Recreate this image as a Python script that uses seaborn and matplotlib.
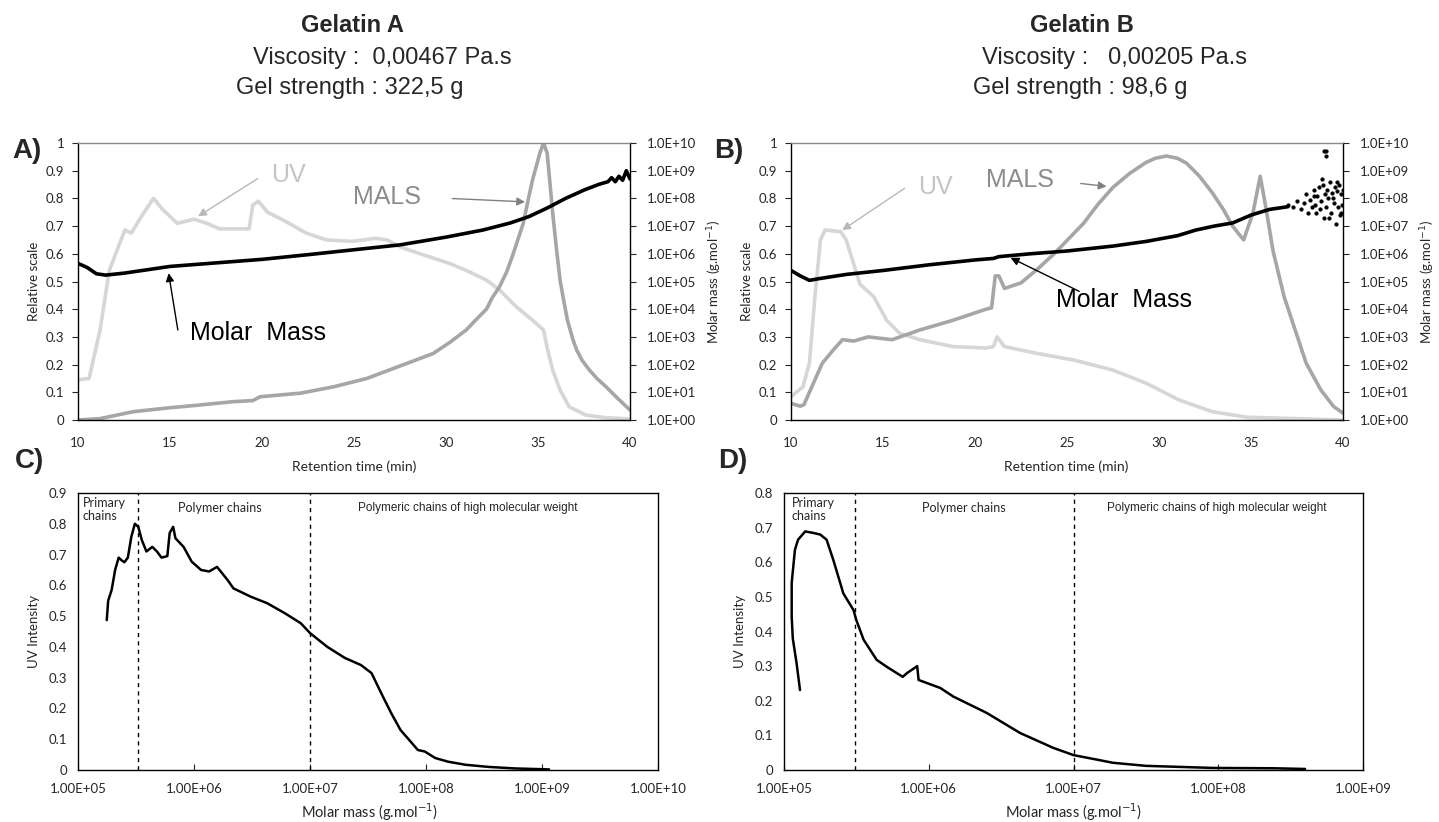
import numpy as np
import pandas as pd
import seaborn as sns
import matplotlib
matplotlib.use('Agg')
import matplotlib.pyplot as plt
from matplotlib.ticker import FuncFormatter, FixedLocator, NullLocator

# ---- data ----
# Gelatin A, retention time (min) vs relative scale
a_uv_t = [10.0, 10.6, 11.2, 11.7, 12.55, 12.9, 13.4, 14.1, 14.6, 15.4, 16.3, 17.0, 17.7, 19.3, 19.5, 19.8,
          20.3, 21.2, 22.4, 23.5, 24.9, 26.2, 26.8, 27.5, 28.6, 30.2, 31.1, 32.2, 32.9, 33.8, 34.7, 35.3,
          35.5, 35.8, 36.2, 36.7, 37.6, 38.7, 40.0]
a_uv = [0.145, 0.15, 0.325, 0.54, 0.686, 0.675, 0.73, 0.80, 0.76, 0.71, 0.725, 0.71, 0.69, 0.69, 0.776, 0.79,
        0.75, 0.72, 0.675, 0.65, 0.645, 0.656, 0.65, 0.625, 0.60, 0.565, 0.54, 0.505, 0.47, 0.41, 0.36, 0.325,
        0.26, 0.18, 0.108, 0.047, 0.018, 0.008, 0.004]
a_mals_t = [10.0, 11.2, 13.0, 14.8, 16.6, 18.4, 19.5, 19.9, 22.1, 23.9, 25.7, 27.5, 29.3, 30.2, 31.1, 31.6,
            32.2, 32.5, 32.9, 33.3, 33.6, 33.9, 34.2, 34.45, 34.7, 35.1, 35.3, 35.5, 35.8, 36.0, 36.2, 36.4,
            36.6, 36.9, 37.1, 37.4, 37.8, 38.2, 38.7, 39.3, 40.0]
a_mals = [0.0, 0.005, 0.03, 0.043, 0.054, 0.066, 0.07, 0.084, 0.097, 0.12, 0.15, 0.195, 0.24, 0.28, 0.325, 0.36,
          0.40, 0.44, 0.48, 0.535, 0.59, 0.65, 0.71, 0.79, 0.866, 0.963, 1.0, 0.963, 0.746, 0.62, 0.505, 0.43,
          0.36, 0.29, 0.253, 0.215, 0.18, 0.15, 0.12, 0.08, 0.036]
a_mm_t = [10.0, 10.5, 11.0, 11.5, 12.5, 15.0, 17.5, 20.0, 22.5, 25.0, 27.5, 30.0, 32.0, 33.5, 34.5, 35.5,
          36.5, 37.5, 38.3, 38.8, 39.0, 39.2, 39.4, 39.6, 39.8, 40.0]
a_mm = [4.5e5, 3.2e5, 1.9e5, 1.7e5, 2.0e5, 3.5e5, 4.7e5, 6.3e5, 9.3e5, 1.4e6, 2.1e6, 4.0e6, 7.2e6, 1.3e7, 2.2e7, 4.5e7,
        1.0e8, 2.0e8, 3.2e8, 4.0e8, 5.6e8, 4.0e8, 6.3e8, 4.5e8, 1.0e9, 5.0e8]

# Gelatin B
b_uv_t = [10.0, 10.65, 11.0, 11.3, 11.6, 11.85, 12.7, 13.0, 13.4, 13.75, 14.5, 15.2, 15.9, 17.0, 18.8, 20.6,
          21.0, 21.2, 21.6, 23.4, 25.4, 27.5, 29.3, 31.1, 32.9, 34.8, 40.0]
b_uv = [0.084, 0.12, 0.205, 0.445, 0.65, 0.686, 0.68, 0.65, 0.565, 0.49, 0.445, 0.36, 0.313, 0.29, 0.265, 0.26,
        0.265, 0.30, 0.265, 0.24, 0.216, 0.18, 0.133, 0.072, 0.03, 0.01, 0.0]
b_mals_t = [10.0, 10.5, 10.7, 11.2, 11.7, 12.3, 12.8, 13.4, 14.2, 15.5, 17.0, 18.8, 20.6, 20.9, 21.1, 21.3,
            21.6, 22.5, 23.4, 24.3, 25.1, 25.9, 26.7, 27.5, 28.4, 29.3, 29.8, 30.4, 31.0, 31.5, 32.2, 32.9,
            33.5, 34.0, 34.6, 35.1, 35.5, 35.8, 36.2, 36.8, 37.4, 38.0, 38.8, 39.5, 40.0]
b_mals = [0.06, 0.05, 0.055, 0.13, 0.205, 0.253, 0.29, 0.285, 0.30, 0.29, 0.325, 0.36, 0.40, 0.405, 0.52, 0.52,
          0.475, 0.495, 0.545, 0.60, 0.655, 0.71, 0.78, 0.84, 0.89, 0.93, 0.945, 0.953, 0.945, 0.927, 0.88, 0.82,
          0.76, 0.70, 0.65, 0.746, 0.88, 0.77, 0.61, 0.445, 0.325, 0.205, 0.108, 0.048, 0.025]
b_mm_t = [10.0, 10.5, 11.0, 11.5, 13.0, 15.0, 17.5, 20.0, 21.0, 21.3, 23.0, 25.0, 27.5, 29.3, 31.0, 32.0,
          33.0, 34.0, 35.0, 36.0, 37.0]
b_mm = [2.5e5, 1.6e5, 1.1e5, 1.26e5, 1.8e5, 2.5e5, 4.0e5, 6.0e5, 6.8e5, 7.9e5, 1.0e6, 1.26e6, 1.9e6, 2.8e6, 4.5e6, 7.2e6,
        1.0e7, 1.3e7, 2.5e7, 4.0e7, 5.0e7]
# noisy molar mass points at the end of run B
b_sc_t = [37.0, 37.3, 37.5, 37.7, 37.9, 38.0, 38.1, 38.2, 38.3, 38.4, 38.5, 38.55, 38.6, 38.7, 38.75, 38.8,
          38.9, 38.95, 39.0, 39.1, 39.15, 39.2, 39.3, 39.35, 39.4, 39.5, 39.55, 39.6, 39.7, 39.75, 39.8,
          39.85, 39.9, 39.95, 40.0, 38.45, 38.85, 39.25, 39.45, 39.65, 39.9, 38.95, 39.1, 39.05]
b_sc = [6e7, 5e7, 8e7, 4e7, 7e7, 1.5e8, 3e7, 9e7, 5e7, 2e8, 6e7, 3e7, 1.2e8, 2.5e8, 4e7, 8e7,
        3e8, 2e7, 1.5e8, 5e7, 2e8, 1e8, 4e8, 3e7, 1.6e8, 7e7, 2.5e8, 1.2e7, 1.8e8, 5e7, 3e8,
        2.5e7, 1.5e8, 6e7, 2e8, 1.2e8, 5e8, 2e7, 1e8, 4e8, 3e7, 5e9, 5e9, 3.5e9]

# C / D : UV intensity vs molar mass
c_mm = [1.77e5, 1.82e5, 1.95e5, 2.09e5, 2.24e5, 2.40e5, 2.51e5, 2.69e5, 2.88e5, 3.09e5, 3.31e5, 3.55e5, 3.89e5,
        4.37e5, 4.79e5, 5.25e5, 5.89e5, 6.17e5, 6.61e5, 6.92e5, 8.13e5, 9.55e5, 1.15e6, 1.35e6, 1.58e6, 1.95e6,
        2.19e6, 3.09e6, 4.27e6, 6.03e6, 8.32e6, 1.0e7, 1.41e7, 2.0e7, 2.75e7, 3.39e7, 4.17e7, 5.01e7, 6.03e7,
        8.51e7, 9.77e7, 1.2e8, 1.55e8, 2.19e8, 3.47e8, 5.89e8, 1.15e9]
c_uv = [0.487, 0.55, 0.585, 0.65, 0.69, 0.68, 0.675, 0.69, 0.757, 0.80, 0.79, 0.747, 0.71,
        0.725, 0.71, 0.69, 0.695, 0.77, 0.79, 0.753, 0.725, 0.677, 0.65, 0.645, 0.66, 0.617,
        0.59, 0.563, 0.542, 0.51, 0.477, 0.445, 0.40, 0.364, 0.341, 0.315, 0.245, 0.185, 0.13,
        0.065, 0.06, 0.039, 0.027, 0.017, 0.01, 0.005, 0.002]
d_mm = [1.29e5, 1.22e5, 1.15e5, 1.13e5, 1.13e5, 1.19e5, 1.25e5, 1.40e5, 1.58e5, 1.78e5, 1.97e5, 2.19e5, 2.57e5,
        3.02e5, 3.16e5, 3.55e5, 4.37e5, 5.13e5, 6.61e5, 7.08e5, 8.32e5, 8.51e5, 1.2e6, 1.48e6, 2.51e6, 4.27e6,
        7.24e6, 1.0e7, 1.45e7, 1.86e7, 3.16e7, 5.37e7, 9.12e7, 2.4e8, 3.98e8]
d_uv = [0.231, 0.31, 0.38, 0.443, 0.54, 0.636, 0.665, 0.689, 0.685, 0.68, 0.665, 0.607, 0.51,
        0.462, 0.433, 0.376, 0.318, 0.298, 0.269, 0.28, 0.30, 0.26, 0.237, 0.212, 0.165, 0.107,
        0.064, 0.043, 0.03, 0.021, 0.012, 0.009, 0.006, 0.005, 0.003]

uv_col = '#d6d6d6'
mals_col = '#a6a6a6'

sns.set_style('white')
plt.rcParams['font.family'] = ['Lato', 'DejaVu Sans']
plt.rcParams['axes.linewidth'] = 1.0

fig = plt.figure(figsize=(14.39, 8.22), dpi=100)
W, H = 1439.0, 822.0

def box(l, t, r, b):
    return [l / W, 1 - b / H, (r - l) / W, (b - t) / H]

def figtxt(x, y, s, **kw):
    fig.text(x / W, 1 - y / H, s, **kw)

rel_fmt = FuncFormatter(lambda v, p: '%g' % round(v, 2))
sci1 = FuncFormatter(lambda v, p: '%.1E' % v)
sci2 = FuncFormatter(lambda v, p: '%.2E' % v)


def top_panel(rect, uv_t, uv, mals_t, mals, mm_t, mm):
    ax = fig.add_axes(rect)
    sns.lineplot(x=uv_t, y=uv, ax=ax, color=uv_col, lw=2.6, sort=False, estimator=None)
    sns.lineplot(x=mals_t, y=mals, ax=ax, color=mals_col, lw=2.6, sort=False, estimator=None)
    ax.set_xlim(10, 40)
    ax.set_ylim(0, 1)
    ax.set_xticks([10, 15, 20, 25, 30, 35, 40])
    ax.set_yticks(np.arange(0, 1.01, 0.1))
    ax.yaxis.set_major_formatter(rel_fmt)
    ax.tick_params(axis='x', length=0, pad=12, labelsize=9.5)
    ax.tick_params(axis='y', left=True, length=4, width=0.8, pad=6, labelsize=9.5)
    ax.set_ylabel('Relative scale', fontsize=9.5, labelpad=4)
    for s in ax.spines.values():
        s.set_color('black')
    ax.spines['top'].set_color('#8a8a8a')
    ax2 = ax.twinx()
    sns.lineplot(x=mm_t, y=mm, ax=ax2, color='black', lw=2.6, sort=False, estimator=None)
    ax2.set_yscale('log')
    ax2.set_ylim(1, 1e10)
    ax2.yaxis.set_major_locator(FixedLocator([10.0 ** k for k in range(11)]))
    ax2.yaxis.set_minor_locator(NullLocator())
    ax2.yaxis.set_major_formatter(sci1)
    ax2.tick_params(axis='y', right=True, length=4, width=0.8, pad=8, labelsize=9.5)
    ax2.set_ylabel('Molar mass (g.mol$^{-1}$)', fontsize=9.5)
    ax2.yaxis.set_label_coords(1.137, 0.5)
    for s in ax2.spines.values():
        s.set_visible(False)
    return ax, ax2


def bottom_panel(rect, mm, uv, ymax, xmax, dash, lab_x):
    ax = fig.add_axes(rect)
    sns.lineplot(x=mm, y=uv, ax=ax, color='black', lw=1.8, sort=False, estimator=None)
    ax.set_xscale('log')
    ax.set_xlim(1e5, xmax)
    ax.set_ylim(0, ymax)
    ax.xaxis.set_major_locator(FixedLocator([10.0 ** k for k in range(5, int(np.log10(xmax)) + 1)]))
    ax.xaxis.set_minor_locator(NullLocator())
    ax.xaxis.set_major_formatter(sci2)
    ax.set_yticks(np.arange(0, ymax + 0.001, 0.1))
    ax.yaxis.set_major_formatter(rel_fmt)
    ax.tick_params(axis='x', bottom=True, direction='in', length=4, width=0.8, pad=9, labelsize=9.5)
    ax.tick_params(axis='y', length=0, pad=8, labelsize=9.5)
    for s in ax.spines.values():
        s.set_color('black')
    for d in dash:
        ax.axvline(d, color='black', ls=(0, (3, 3)), lw=1.0)
    ax.set_ylabel('UV Intensity', fontsize=9.5, labelpad=6)
    tr = ax.get_xaxis_transform()
    ax.text(lab_x[0], 0.985, 'Primary\nchains', transform=tr, ha='left', va='top', fontsize=9, linespacing=1.05)
    ax.text(lab_x[1], 0.945, 'Polymer chains', transform=tr, ha='center', va='center', fontsize=9)
    ax.text(lab_x[2], 0.945, 'Polymeric chains of high molecular weight', transform=tr, ha='center',
            va='center', fontsize=8.5, family=['Liberation Sans', 'DejaVu Sans'])
    return ax


arial = ['Liberation Sans', 'DejaVu Sans']

# ---- A ----
axA, axA2 = top_panel(box(78, 143, 630, 420), a_uv_t, a_uv, a_mals_t, a_mals, a_mm_t, a_mm)
axA.text(20.5, 0.885, 'UV', color='#c4c4c4', fontsize=18, family=arial, va='center')
axA.annotate('', xy=(16.4, 0.73), xytext=(19.9, 0.877),
             arrowprops=dict(arrowstyle='-|>', color='#b8b8b8', lw=1.0, mutation_scale=12))
axA.text(24.95, 0.805, 'MALS', color='#8c8c8c', fontsize=18, family=arial, va='center')
axA.annotate('', xy=(34.45, 0.787), xytext=(30.2, 0.80),
             arrowprops=dict(arrowstyle='-|>', color='#808080', lw=1.0, mutation_scale=12))
axA.text(16.1, 0.315, 'Molar  Mass', color='black', fontsize=18, family=arial, va='center')
axA.annotate('', xy=(14.9, 0.54), xytext=(15.45, 0.315),
             arrowprops=dict(arrowstyle='-|>', color='black', lw=1.0, mutation_scale=12))

# ---- B ----
axB, axB2 = top_panel(box(791, 143, 1343, 420), b_uv_t, b_uv, b_mals_t, b_mals, b_mm_t, b_mm)
sns.scatterplot(x=b_sc_t, y=b_sc, ax=axB2, color='black', s=7, edgecolor='black', linewidth=0.3)
axB2.set_ylim(1, 1e10)
axB.text(16.9, 0.84, 'UV', color='#c4c4c4', fontsize=18, family=arial, va='center')
axB.annotate('', xy=(12.66, 0.68), xytext=(16.3, 0.842),
             arrowprops=dict(arrowstyle='-|>', color='#b8b8b8', lw=1.0, mutation_scale=12))
axB.text(20.6, 0.866, 'MALS', color='#8c8c8c', fontsize=18, family=arial, va='center')
axB.annotate('', xy=(27.3, 0.842), xytext=(25.6, 0.855),
             arrowprops=dict(arrowstyle='-|>', color='#808080', lw=1.0, mutation_scale=12))
axB.text(24.4, 0.433, 'Molar  Mass', color='black', fontsize=18, family=arial, va='center')
axB.annotate('', xy=(21.8, 0.59), xytext=(25.8, 0.46),
             arrowprops=dict(arrowstyle='-|>', color='black', lw=1.0, mutation_scale=12))

# ---- C / D ----
axC = bottom_panel(box(78, 493, 658, 770), c_mm, c_uv, 0.9, 1e10, [3.3e5, 1e7], [1.1e5, 1.66e6, 2.3e8])
axD = bottom_panel(box(784, 493, 1363, 770), d_mm, d_uv, 0.8, 1e9, [3.1e5, 1e7], [1.13e5, 1.75e6, 9.8e7])

# ---- figure texts ----
figtxt(352, 25, 'Gelatin A', ha='center', va='center', fontsize=17, fontweight='bold', family=arial)
figtxt(382, 58, 'Viscosity :  0,00467 Pa.s', ha='center', va='center', fontsize=17, family=arial)
figtxt(350, 88, 'Gel strength : 322,5 g', ha='center', va='center', fontsize=17, family=arial)
figtxt(1082, 25, 'Gelatin B', ha='center', va='center', fontsize=17, fontweight='bold', family=arial)
figtxt(1114, 58, 'Viscosity :   0,00205 Pa.s', ha='center', va='center', fontsize=17, family=arial)
figtxt(1080, 88, 'Gel strength : 98,6 g', ha='center', va='center', fontsize=17, family=arial)

for x, y, s in [(27, 151, 'A)'), (729, 151, 'B)'), (30, 461, 'C)'), (733, 461, 'D)')]:
    figtxt(x, y, s, ha='center', va='center', fontsize=20, fontweight='bold', family=arial)

figtxt(354, 467, 'Retention time (min)', ha='center', va='center', fontsize=10)
figtxt(1066, 467, 'Retention time (min)', ha='center', va='center', fontsize=10)
figtxt(370, 812, 'Molar mass (g.mol$^{-1}$)', ha='center', va='center', fontsize=10.5)
figtxt(1074, 812, 'Molar mass (g.mol$^{-1}$)', ha='center', va='center', fontsize=10.5)

fig.savefig('out.png', dpi=100, facecolor='white')
